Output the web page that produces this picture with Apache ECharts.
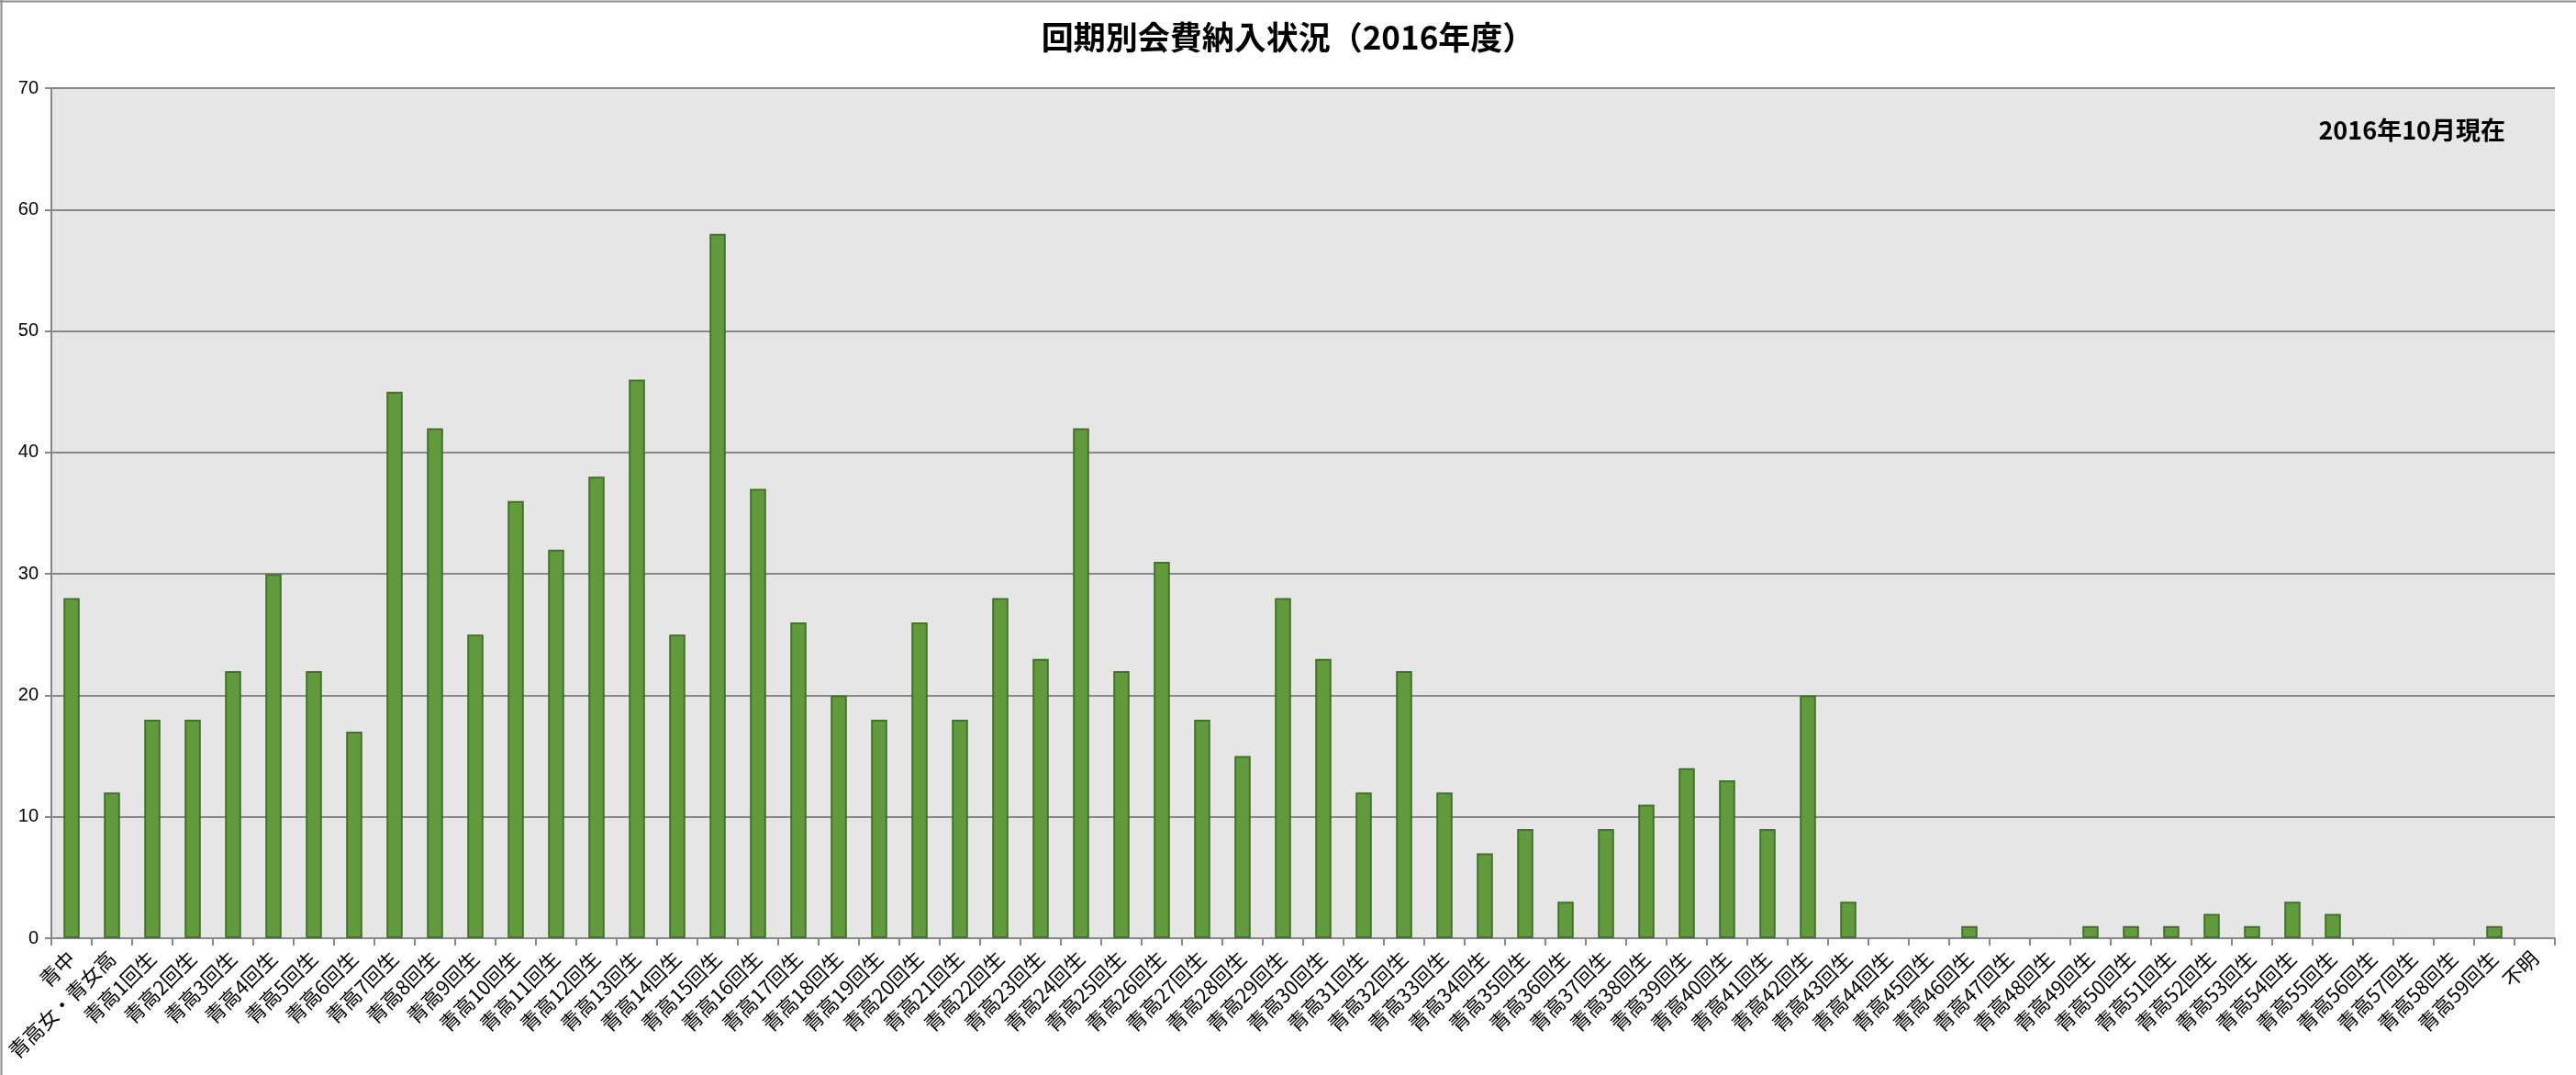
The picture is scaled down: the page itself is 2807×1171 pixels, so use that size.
<!DOCTYPE html>
<html><head><meta charset="utf-8">
<script src="https://cdn.jsdelivr.net/npm/echarts@6/dist/echarts.min.js"></script>
<style>html,body{margin:0;padding:0;background:#fff}#c{width:2807px;height:1171px}</style>
</head><body><div id="c"></div>
<script>
const titleText = '回期別会費納入状況（2016年度）';
const noteText = '2016年10月現在';
const categories = ['青中','青高女・青女高'];
for (let i = 1; i <= 59; i++) categories.push('青高' + i + '回生');
categories.push('不明');
const values = [28,12,18,18,22,30,22,17,45,42,25,36,32,38,46,25,58,37,26,20,
  18,26,18,28,23,42,22,31,18,15,28,23,12,22,12,7,9,3,9,11,
  14,13,9,20,3,0,0,1,0,0,1,1,1,2,1,3,2,0,0,0,1,0];
const yTicks = {min:0, max:70, interval:10};

const chart = echarts.init(document.getElementById('c'), null, {renderer:'canvas'});
chart.setOption({
  animation:false,
  backgroundColor:'#ffffff',
  title:[{text:titleText, left:'center', top:18,
    textStyle:{fontFamily:'Noto Sans CJK JP', fontSize:35, fontWeight:'bold', color:'#000'}},
    {text:noteText, right:72, top:123,
    textStyle:{fontFamily:'Noto Sans CJK JP', fontSize:27, fontWeight:'bold', color:'#000'}}],
  graphic:[
    {type:'line', shape:{x1:0,y1:1.5,x2:2807,y2:1.5}, style:{stroke:'#8c8c8c', lineWidth:2}, z:100},
    {type:'line', shape:{x1:1.5,y1:0,x2:1.5,y2:1171}, style:{stroke:'#8c8c8c', lineWidth:2}, z:100}
  ],
  grid:{left:56, right:23, top:96, bottom:149, containLabel:false,
    show:true, backgroundColor:'#e6e6e6', borderWidth:0},
  xAxis:{type:'category', data:categories,
    axisLine:{show:true, lineStyle:{color:'#888', width:2}},
    axisTick:{show:true, alignWithLabel:false, length:8, lineStyle:{color:'#888', width:2}},
    axisLabel:{interval:0, rotate:45, margin:18, fontFamily:'Noto Sans CJK JP', fontSize:22, color:'#000'},
    splitLine:{show:false}},
  yAxis:{type:'value', min:yTicks.min, max:yTicks.max, interval:yTicks.interval,
    axisLine:{show:true, lineStyle:{color:'#888', width:2}},
    axisTick:{show:true, length:7, lineStyle:{color:'#888', width:2}},
    axisLabel:{margin:14, fontFamily:'Liberation Sans', fontSize:20, color:'#000'},
    splitLine:{show:true, lineStyle:{color:'#888', width:2}}},
  series:[{type:'bar', barWidth:'40%',
    data:values.map(v => v === 0 ? {value:0, itemStyle:{borderWidth:0, opacity:0}} : v),
    itemStyle:{color:'#629b3e', borderColor:'#43722a', borderWidth:2}}]
});
</script></body></html>
